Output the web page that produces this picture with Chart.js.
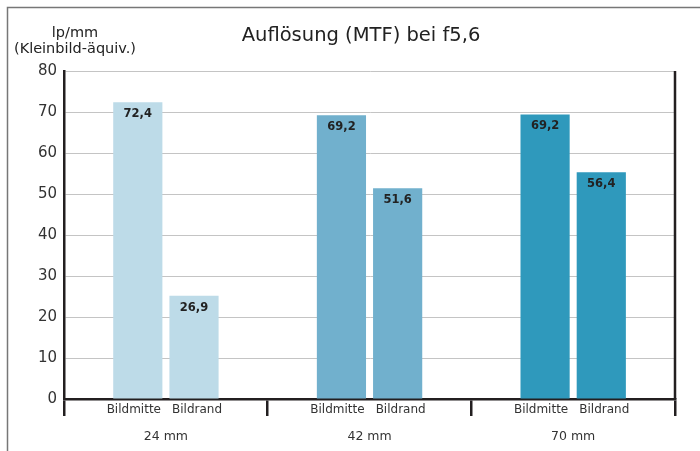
<!DOCTYPE html>
<html>
<head>
<meta charset="utf-8">
<script src="https://cdn.jsdelivr.net/npm/chart.js@4/dist/chart.umd.min.js"></script>
<style>
    html, body { margin: 0; padding: 0; background: #fff; }
    #wrap { width: 700px; height: 451px; }
</style>
</head>
<body>
<div id="wrap"><canvas id="mtfChart"></canvas></div>
<script>
const groups = ['24 mm', '42 mm', '70 mm'];
const subLabels = ['Bildmitte', 'Bildrand'];
const mitteValues = [72.4, 69.2, 69.4];
const randValues = [25.2, 51.4, 55.3];
const mitteLabels = ['72,4', '69,2', '69,2'];
const randLabels = ['26,9', '51,6', '56,4'];
const yTicks = [0, 10, 20, 30, 40, 50, 60, 70, 80];
const groupColors = ['#bddbe8', '#71b0cd', '#2f99bc'];
const chartTitle = 'Auflösung (MTF) bei f5,6';
const yTitle = ['lp/mm', '(Kleinbild-äquiv.)'];

const FONT = "'DejaVu Sans', sans-serif";

// frame, titles, bar labels, sub labels
const extrasPlugin = {
    id: 'extras',
    afterDraw(chart) {
        const ctx = chart.ctx;
        const area = chart.chartArea;
        ctx.save();

        // outer frame (top + left)
        ctx.strokeStyle = '#777';
        ctx.lineWidth = 1.5;
        ctx.beginPath();
        ctx.moveTo(7.5, 451);
        ctx.lineTo(7.5, 7.5);
        ctx.lineTo(700, 7.5);
        ctx.stroke();

        // right border of plot
        ctx.strokeStyle = '#231f20';
        ctx.lineWidth = 2.5;
        ctx.beginPath();
        ctx.moveTo(area.right, area.top);
        ctx.lineTo(area.right, area.bottom);
        ctx.stroke();

        ctx.textAlign = 'center';
        ctx.textBaseline = 'middle';

        // chart title
        ctx.fillStyle = '#222';
        ctx.font = '19.5px ' + FONT;
        ctx.fillText(chartTitle, 361, 36);

        // y axis title
        ctx.font = '14.5px ' + FONT;
        ctx.fillText(yTitle[0], 75, 33);
        ctx.fillText(yTitle[1], 75, 49);

        const labelSets = [mitteLabels, randLabels];
        const subShift = [-4, 3];
        chart.data.datasets.forEach((ds, di) => {
            const meta = chart.getDatasetMeta(di);
            meta.data.forEach((bar, i) => {
                // value label inside top of bar
                ctx.fillStyle = '#222';
                ctx.font = 'bold 11.5px ' + FONT;
                ctx.fillText(labelSets[di][i], bar.x, bar.y + 12);
                // sub label below axis
                ctx.fillStyle = '#333';
                ctx.font = '12px ' + FONT;
                ctx.fillText(subLabels[di], bar.x + subShift[di], area.bottom + 11);
            });
        });
        ctx.restore();
    }
};

new Chart(document.getElementById('mtfChart'), {
    type: 'bar',
    data: {
        labels: groups,
        datasets: [
            {
                label: subLabels[0],
                data: mitteValues,
                backgroundColor: groupColors,
                categoryPercentage: 0.552,
                barPercentage: 0.875
            },
            {
                label: subLabels[1],
                data: randValues,
                backgroundColor: groupColors,
                categoryPercentage: 0.552,
                barPercentage: 0.875
            }
        ]
    },
    options: {
        responsive: true,
        maintainAspectRatio: false,
        animation: false,
        layout: { padding: { left: 31, right: 25, top: 71, bottom: -6 } },
        plugins: {
            legend: { display: false },
            tooltip: { enabled: false },
            title: { display: false }
        },
        scales: {
            x: {
                grid: {
                    drawOnChartArea: false,
                    color: '#231f20',
                    lineWidth: 2.5,
                    tickLength: 17
                },
                border: { color: '#231f20', width: 2.5 },
                ticks: {
                    color: '#333',
                    padding: 13,
                    font: { family: FONT, size: 12.5 }
                }
            },
            y: {
                min: 0,
                max: 80,
                afterBuildTicks: axis => { axis.ticks = yTicks.map(v => ({ value: v })); },
                grid: {
                    color: '#c4c4c4',
                    lineWidth: 1,
                    drawTicks: false
                },
                border: { color: '#231f20', width: 2.5 },
                ticks: {
                    color: '#333',
                    padding: 7,
                    font: { family: FONT, size: 15 }
                }
            }
        }
    },
    plugins: [extrasPlugin]
});
</script>
</body>
</html>
